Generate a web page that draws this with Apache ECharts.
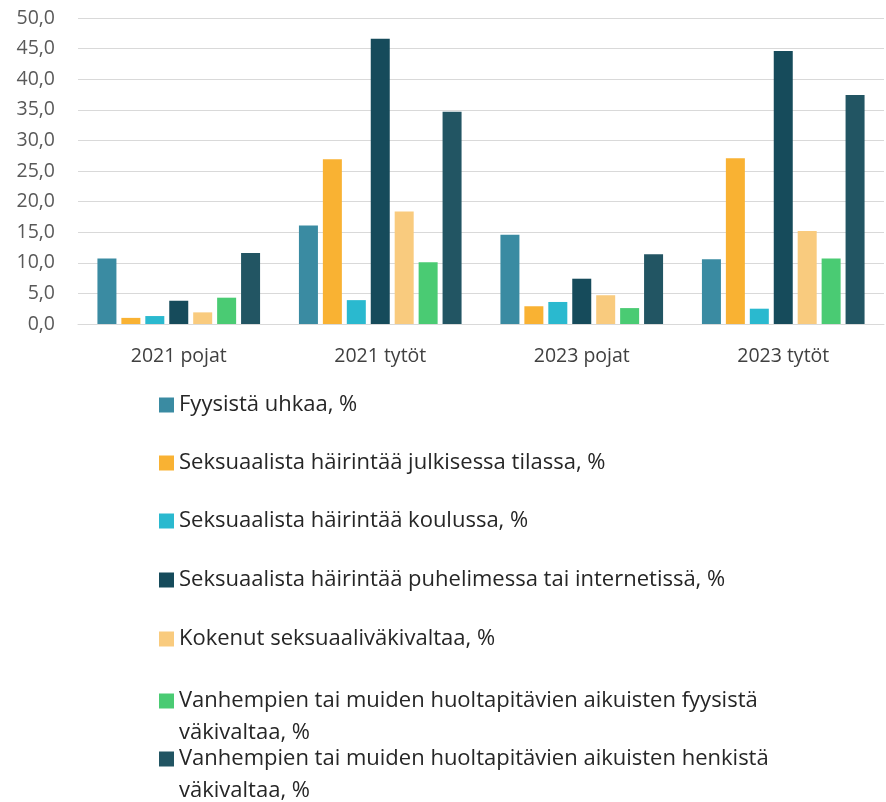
<!DOCTYPE html>
<html>
<head>
<meta charset="utf-8">
<script src="https://cdn.jsdelivr.net/npm/echarts@6/dist/echarts.min.js"></script>
<style>
  html, body { margin: 0; padding: 0; background: #fff; }
  #chart { width: 886px; height: 802px; }
</style>
</head>
<body>
<div id="chart"></div>
<script>
// data
var categories = ['2021 pojat', '2021 tytöt', '2023 pojat', '2023 tytöt'];
var seriesNames = [
    'Fyysistä uhkaa, %',
    'Seksuaalista häirintää julkisessa tilassa, %',
    'Seksuaalista häirintää koulussa, %',
    'Seksuaalista häirintää puhelimessa tai internetissä, %',
    'Kokenut seksuaaliväkivaltaa, %',
    'Vanhempien tai muiden huoltapitävien aikuisten fyysistä väkivaltaa, %',
    'Vanhempien tai muiden huoltapitävien aikuisten henkistä väkivaltaa, %'
];
var fyysistaUhkaa = [10.7, 16.1, 14.6, 10.6];
var julkisessaTilassa = [1.0, 26.9, 2.9, 27.1];
var koulussa = [1.3, 3.9, 3.6, 2.5];
var puhelimessa = [3.8, 46.6, 7.4, 44.6];
var seksuaalivakivalta = [1.9, 18.4, 4.7, 15.2];
var fyysinenVakivalta = [4.3, 10.1, 2.6, 10.7];
var henkinenVakivalta = [11.6, 34.7, 11.4, 37.4];
var values = [fyysistaUhkaa, julkisessaTilassa, koulussa, puhelimessa,
    seksuaalivakivalta, fyysinenVakivalta, henkinenVakivalta];
var colors = ['#3a8ba2', '#f9b233', '#2ab9cf', '#164b5b', '#f9cb7e', '#4acb73', '#225563'];

var font = 'Open Sans';

var series = seriesNames.map(function (name, i) {
    return {
        name: name,
        type: 'bar',
        data: values[i],
        barWidth: 19,
        barGap: '26%',
        itemStyle: { color: colors[i] }
    };
});

// one legend per item so the wrapped ones keep the spacing of the original
var legendCenters = [405, 463, 521, 580, 639, 701, 759];
var lineH = 32;
var legends = seriesNames.map(function (name, i) {
    var wrapped = name.length > 60;
    return {
        data: [name],
        orient: 'vertical',
        left: 159,
        top: wrapped ? legendCenters[i] - lineH * 1.5 : legendCenters[i] - lineH / 2,
        padding: 0,
        itemWidth: 15,
        itemHeight: 15,
        itemGap: 0,
        icon: 'rect',
        selectedMode: false,
        // leading blank line keeps the icon level with the first text line
        formatter: function (n) { return wrapped ? '\n' + n : n; },
        textStyle: {
            fontFamily: font,
            fontSize: 22,
            color: '#262626',
            lineHeight: lineH,
            width: 640,
            overflow: 'break'
        }
    };
});

var myChart = echarts.init(document.getElementById('chart'));
var option = {
    animation: false,
    color: colors,
    grid: { left: 78, right: 2, top: 18, bottom: 478, containLabel: false },
    legend: legends,
    xAxis: {
        type: 'category',
        data: categories,
        axisTick: { show: false },
        axisLine: { lineStyle: { color: '#d9d9d9', width: 1 } },
        axisLabel: { fontFamily: font, fontSize: 19.5, color: '#404040', margin: 22 }
    },
    yAxis: {
        type: 'value',
        min: 0,
        max: 50,
        interval: 5,
        axisLine: { show: false },
        axisTick: { show: false },
        splitLine: { lineStyle: { color: '#d9d9d9', width: 1 } },
        axisLabel: {
            fontFamily: font,
            fontSize: 19.5,
            color: '#595959',
            margin: 23,
            formatter: function (v) { return v.toFixed(1).replace('.', ','); }
        }
    },
    series: series
};
myChart.setOption(option);
</script>
</body>
</html>
